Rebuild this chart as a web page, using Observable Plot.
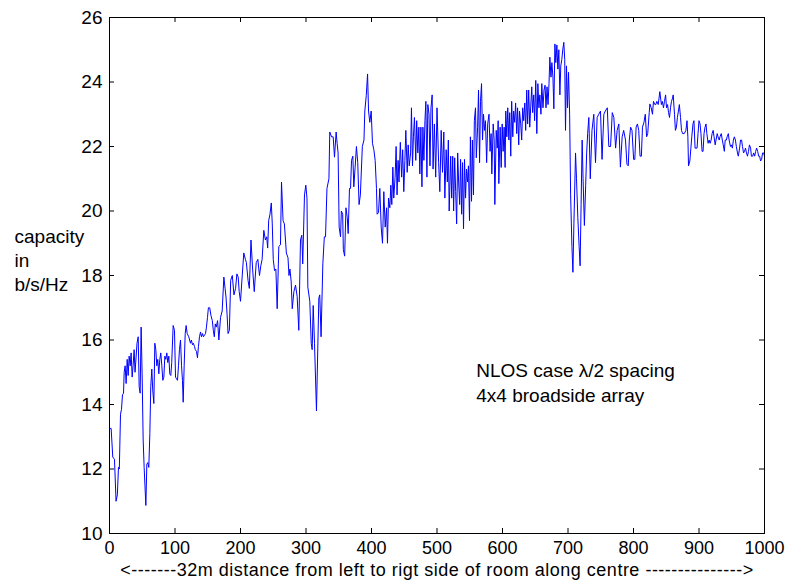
<!DOCTYPE html>
<html><head><meta charset="utf-8">
<script src="https://cdn.jsdelivr.net/npm/d3@7"></script>
<script src="https://cdn.jsdelivr.net/npm/@observablehq/plot@0.6"></script>
<style>html,body{margin:0;padding:0;background:#fff} #chart svg{display:block}</style>
</head><body><div id="chart"></div>
<script>
const position = [
0,2.5,5,7.6,10,12,13.7,15,16.8,18.3,19.8,21.4,22.4,23.9,25.4,27,28.5,30,31.6,33,34.6,36,37.6,39,40.7,42,43.8,45.3,46.8,48.3,49.8,51.4,52.9,55.5,57,58.5,60,61.6,63,64.6,66,67.7,69.2,70.7,72.2,73.7,75.3,76.8,78.3,79.9,81.4,83,84.5,86,87.5,89,90.6,92,93.6,95,97.2,99.2,100.8,102.3,103.8,105.3,106.8,108.4,110,111.4,112.5,114,115.6,117,118.6,121,123.6,125,126.7,128,129.8,131,132.8,134.3,135.8,137.4,139,140.4,142,143.5,145,146.6,148,149.6,151,
153,155,157,158.5,160,161.5,163,165,167,169.5,172,174.6,176.5,178,179.5,181,183,185,187.5,190,192.5,194.5,196.5,198,200,202,205,207.5,209,211.5,213.5,216,218.5,221,224,226.5,229,231,233,235.6,238,240,241.5,243,245,247,248.5,250,252,254,
256,258.5,261,262.6,265,267,270,272.5,274,275.5,277.4,279,281.5,284,286.5,289,291.6,293.6,295,297.7,299.7,301.5,302.8,305.8,308,309.4,311,313,316,319.6,321,323,325.7,328,329.8,332,335,336.3,339,341.5,343.5,346,347.5,349,350.6,352.7,354,356,357,359,361,363,364.4,366.4,368,369.5,371.5,373,375,377,379,381,383,386,388.5,389.8,392,394,395.5,397.4,399.5,401.5,403.6,405.6,407.6,408.6,410.7,412.7,414.8,416.8,418.8,420.9,423,424.4,426,428,429.5,431,432.6,434,436,437.6,439,440.6,442,444,446,447.6,449.3,451,452.4,454.5,456,457.6,459.7,461,462.6,464,465.6,467.6,469,470.7,472.3,473.8,475.4,477,478.5,480,481.6,483,484.6,486,487.8,489.3,490.8,
492.6,494,496,498,500,502.5,504.3,506.4,508.4,510.4,512,514,515.8,517.3,518.6,520.9,522.4,524,525.4,527,528.5,530,531.6,533,534.6,536,537.6,539,540.5,542,543.6,545,546.6,548,549.6,551,552.7,554,555.7,557,558.8,560,562,563.4,565,566.4,568,569.5,571,572.6,574,575.8,577.4,579.4,581,582.6,583.7,585.8,587.3,588.3,590.4,592,593.4,594.4,596.4,598,599.5,601,602.5,604,605,606.6,608,609.7,611,612.6,614,615.7,617,618.6,620,621.7,623,624.8,626,627.8,629.3,630.8,632.3,634,635.4,637,638.4,640,641.6,643,644.7,646,647.7,649,650.8,652.4,654,655.6,657,658.7,660,661.8,663.4,665,666.4,668,669.5,671,672.3,674,675.4,677,678.4,680,681.4,683,684.5,686,687.6,689,690.6,692,693.6,695,696.2,697.7,699.3,700.8,
702.5,704,706,707.5,709,711.5,713,715,717,718.5,720,721.6,723,725,727,728.5,730,731.8,734,736.6,739.4,742,
744.5,747,749.6,752,754.7,757,760,762.3,765,767.6,770,772.7,775,777.6,780,782.7,785,787.8,790,792,793.6,795.6,797.7,800.2,802,804,806,808,810,812,813.7,816,818,820,821.7,824,825,827,829,830.5,832.6,834,835.6,837.7,839,840.2,842.6,844,845.8,847.3,849,850.4,852,853.5,855,856.5,858,859.6,860.6,862.6,864,865.6,867,868.6,870,871.8,873.3,875,877.5,880,881.7,883,884,886,887.6,889,890.8,892.3,894,895.4,897,898.5,900,901.6,903,904.7,906.2,907.7,909.2,910.7,912,913.9,915.4,917,918.5,920,921.6,923,924.7,926,927.8,929,930.9,932,934,935.6,937,938.7,940,941.8,943,944.8,946,948,949.4,951,952.5,954,955.6,957,958.8,960,962,963.4,965,966.4,968,969.5,971,972.5,974,975.6,977,978.8,980,982,983.4,985,986.5,988,989.6,991,992.6,994,995.6,997,998.7,1000
];
const capacity = [
13.26,13.26,12.37,12.3,11.0,11.2,12.05,12.0,13.7,13.85,14.3,14.35,15.0,15.2,14.65,15.4,14.9,15.5,15.2,15.6,14.85,15.2,15.7,15.0,15.5,15.9,16.1,14.55,14.35,16.4,14.95,12.9,12.05,10.87,12.15,12.2,12.05,13.1,14.55,15.1,14.45,14.03,15.9,15.7,15.2,15.4,14.95,15.4,15.6,15.2,14.75,14.85,15.5,15.4,15.6,15.3,15.5,14.95,14.9,15.3,16.45,16.3,14.85,14.8,14.75,15.2,15.7,16.0,15.2,14.75,14.07,15.2,16.2,16.45,16.2,16.1,15.9,16.0,15.85,15.9,15.8,15.7,15.65,15.45,15.8,16.1,16.25,16.1,16.2,16.1,16.15,16.2,16.4,16.7,17.0,
17.0,16.75,16.6,16.3,16.1,16.5,16.4,16.6,16.0,16.7,16.9,17.95,17.6,17.3,16.8,16.2,16.3,17.85,18.0,17.4,17.6,18.05,17.95,17.5,17.2,17.8,18.7,18.5,18.4,17.85,17.6,19.1,18.2,17.5,18.4,18.5,18.0,18.3,18.5,19.4,19.1,19.2,18.85,19.7,19.9,20.25,19.6,18.5,18.15,18.2,
16.97,18.9,18.95,20.9,19.7,19.6,18.7,18.55,18.0,18.2,17.8,16.97,17.5,17.7,17.35,16.3,19.1,19.25,18.36,20.5,20.8,20.4,17.64,17.2,15.9,15.7,17.07,15.9,13.8,17.3,17.4,16.1,18.36,19.2,19.2,20.7,21.0,22.45,22.3,22.3,21.67,22.45,22.1,21.8,19.5,19.2,20.0,19.9,18.8,18.6,20.1,19.8,19.3,20.7,20.7,21.57,21.7,20.75,21.36,22.0,21.5,20.2,20.5,22.0,22.2,23.1,23.58,24.25,23.1,22.75,23.1,22.1,21.9,21.57,20.7,19.9,19.95,20.7,19.5,19.0,20.6,19.5,20.1,19.0,20.4,20.1,20.8,20.2,21.36,20.4,21.05,22.0,20.5,21.57,20.9,22.13,21.05,21.9,20.6,21.57,22.5,21.2,22.05,21.4,21.8,23.2,21.4,22.3,22.9,21.57,22.8,21.8,22.6,21.15,22.6,20.75,22.6,21.57,22.8,23.4,21.05,23.3,23.0,21.4,23.2,
23.6,21.3,22.7,21.05,23.2,21.5,20.6,22.5,21.2,22.45,20.4,21.9,20.9,22.2,20.0,21.7,20.4,21.7,20.0,21.65,20.6,19.6,21.8,20.9,20.2,21.6,19.9,21.5,19.45,21.6,20.4,21.3,20.9,21.4,19.7,22.3,20.3,22.2,20.5,22.8,23.2,21.65,22.6,23.75,21.5,23.4,23.95,22.2,23.0,22.5,22.8,21.5,22.7,23.0,21.85,22.4,21.15,22.7,22.2,20.2,22.5,21.95,22.8,20.85,22.6,21.35,22.7,21.85,22.6,21.35,23.1,22.3,23.2,22.2,23.05,21.7,23.4,22.3,23.1,22.75,23.35,22.4,23.2,22.05,23.1,22.7,22.2,23.2,22.8,23.35,22.5,23.75,22.7,23.75,22.6,23.2,23.85,23.05,23.6,22.8,24.05,22.4,23.95,23.2,23.6,23.0,23.95,23.2,23.75,23.9,23.2,23.85,23.3,23.95,24.77,24.15,24.6,24.15,23.17,25.18,24.6,25.15,24.4,25.0,23.6,24.5,24.7,25.0,25.23,24.7,22.5,24.5,23.2,24.3,
23.0,20.5,18.9,18.1,19.6,21.8,21.0,19.8,18.9,18.3,20.2,22.2,21.0,19.55,20.8,21.8,22.4,22.9,21.0,22.5,23.0,21.5,
22.9,23.0,23.1,21.6,23.0,23.1,23.2,22.0,22.0,23.05,22.9,21.95,22.5,22.7,21.36,22.3,22.5,22.2,21.45,21.4,22.2,22.6,22.5,21.6,21.6,22.6,22.7,22.5,21.7,21.7,22.6,22.75,23.0,22.3,22.4,23.05,23.32,23.2,23.0,23.4,23.3,23.3,23.4,23.3,23.5,23.7,23.3,23.4,23.2,23.4,23.6,23.2,23.3,23.05,22.9,23.2,23.4,23.5,23.6,23.0,22.5,22.6,22.9,23.1,23.3,22.9,22.5,22.4,22.4,22.5,22.8,22.3,21.4,21.55,21.95,22.3,22.7,22.8,21.95,21.95,21.95,22.4,22.8,22.7,22.4,21.85,21.85,22.4,22.6,22.7,22.4,22.1,22.2,22.1,22.2,22.4,22.5,22.3,22.05,22.2,22.4,22.3,22.2,22.3,22.4,22.2,22.05,21.85,22.2,22.2,22.3,22.4,22.2,22.0,22.05,21.95,22.2,22.3,22.2,22.0,21.8,21.7,21.95,22.2,22.2,22.0,21.8,21.85,21.95,21.8,21.7,21.85,22.05,21.95,21.7,21.7,21.8,21.7,21.85,21.95,21.85,21.7,21.7,21.55,21.6,21.8,21.8,21.7
];
const xTicks = [0,100,200,300,400,500,600,700,800,900,1000];
const yTicks = [10,12,14,16,18,20,22,24,26];
const yLabelLines = ["capacity","in","b/s/Hz"];
const xLabel = "<-------32m distance from left to rigt side of room along centre --------------->";
const noteLines = ["NLOS case \u03bb/2 spacing","4x4 broadside array"];

const W = 789, H = 581, mL = 109, mR = 25, mT = 17, mB = 48;
const fw = W - mL - mR, fh = H - mT - mB;
const series = position.map((x, i) => ({x, y: capacity[i]}));

const chart = Plot.plot({
  width: W, height: H,
  marginLeft: mL, marginRight: mR, marginTop: mT, marginBottom: mB,
  style: {fontFamily: "'Liberation Sans', Arial, sans-serif", fontSize: "19px", color: "#000", background: "#fff"},
  x: {domain: [0, 1000]},
  y: {domain: [10, 26]},
  marks: [
    Plot.line(series, {x: "x", y: "y", stroke: "#0000ff", strokeWidth: 1}),
    Plot.frame({stroke: "#000", strokeWidth: 1}),
    Plot.tickX(xTicks, {x: d => d, insetTop: fh - 5, stroke: "#000"}),
    Plot.tickX(xTicks, {x: d => d, insetBottom: fh - 5, stroke: "#000"}),
    Plot.tickY(yTicks, {y: d => d, insetRight: fw - 5, stroke: "#000"}),
    Plot.tickY(yTicks, {y: d => d, insetLeft: fw - 5, stroke: "#000"}),
    Plot.axisX(xTicks, {anchor: "bottom", tickSize: 0, tickPadding: 8, label: null, fontSize: 18, tickFormat: d => String(d)}),
    Plot.axisY(yTicks, {anchor: "left", tickSize: 0, tickPadding: 7, label: null, fontSize: 19, tickFormat: d => String(d)}),
    Plot.text([{t: yLabelLines.join("\n"), v: 18.5}], {frameAnchor: "left", y: "v", text: "t", dx: -95, textAnchor: "start", lineAnchor: "middle", lineHeight: 1.26, fontSize: 19}),
    Plot.text([{t: xLabel}], {frameAnchor: "bottom", text: "t", dy: 37, lineAnchor: "middle", fontSize: 18}),
    Plot.text([{t: noteLines.join("\n"), x: 560, y: 14.7}], {x: "x", y: "y", text: "t", textAnchor: "start", lineAnchor: "middle", lineHeight: 1.32, fontSize: 19})
  ]
});
d3.select(chart).selectAll("text").filter(function() { return this.textContent === xLabel; }).style("letter-spacing", "0.5px");
document.getElementById("chart").append(chart);
</script>
</body></html>
